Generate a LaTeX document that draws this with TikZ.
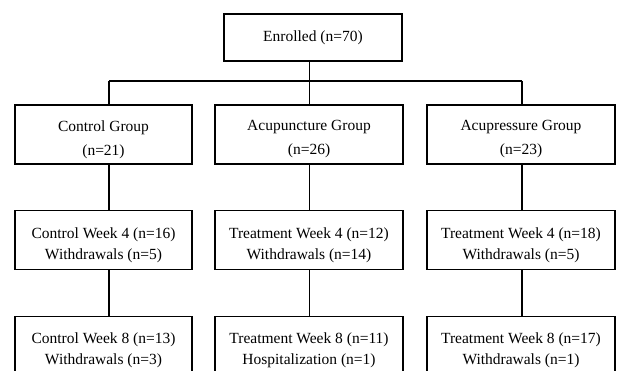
\documentclass[tikz,border=0pt]{standalone}
\usepackage{fontspec}
\setmainfont{Liberation Serif}
\begin{document}
\begin{tikzpicture}[x=1pt,y=-1pt,
  box/.style={draw, line width=1.1pt, rectangle, inner sep=0pt, minimum height=59pt},
  narrow/.style={minimum width=177pt},
  wide/.style={minimum width=188pt},
  txt/.style={inner sep=0pt, align=center, font=\fontsize{15.5}{21}\selectfont},
  grptxt/.style={txt, font=\fontsize{15.5}{24}\selectfont},
  conn/.style={line width=1.1pt}]
\useasboundingbox (0,0) rectangle (617,371);
\fill[white] (0,0) rectangle (617,371);
% column line positions
\coordinate (c1) at (109,81);
\coordinate (c2) at (309.5,81);
\coordinate (c3) at (522,81);
% boxes
\node[box, minimum width=178pt, minimum height=47pt] (enr) at (313,37.5) {};
\node[box, narrow] (g1) at (103.5,134.5) {};
\node[box, wide]   (g2) at (309,134.5) {};
\node[box, wide]   (g3) at (521,134.5) {};
\node[box, narrow] (a1) at (103.5,240) {};
\node[box, wide]   (a2) at (309,240) {};
\node[box, wide]   (a3) at (521,240) {};
\node[box, narrow] (b1) at (103.5,346) {};
\node[box, wide]   (b2) at (309,346) {};
\node[box, wide]   (b3) at (521,346) {};
% texts
\node[txt] (tenr) at (enr.center) {Enrolled (n=70)};
\node[grptxt] (tg1) at ([yshift=-5pt]g1.center) {Control Group\\(n=21)};
\node[grptxt] (tg2) at ([yshift=-5pt]g2.center) {Acupuncture Group\\(n=26)};
\node[grptxt] (tg3) at ([yshift=-5pt]g3.center) {Acupressure Group\\(n=23)};
\node[txt] (ta1) at ([yshift=-5pt]a1.center) {Control Week 4 (n=16)\\Withdrawals (n=5)};
\node[txt] (ta2) at ([yshift=-5pt]a2.center) {Treatment Week 4 (n=12)\\Withdrawals (n=14)};
\node[txt] (ta3) at ([yshift=-5pt]a3.center) {Treatment Week 4 (n=18)\\Withdrawals (n=5)};
\node[txt] (tb1) at ([yshift=-4pt]b1.center) {Control Week 8 (n=13)\\Withdrawals (n=3)};
\node[txt] (tb2) at ([yshift=-4pt]b2.center) {Treatment Week 8 (n=11)\\Hospitalization (n=1)};
\node[txt] (tb3) at ([yshift=-4pt]b3.center) {Treatment Week 8 (n=17)\\Withdrawals (n=1)};
% connectors
\draw[conn] (enr.south -| c2) -- (c2);
\draw[conn] (c1) -- (c3);
\draw[conn] (c1) -- (g1.north -| c1);
\draw[conn] (c2) -- (g2.north -| c2);
\draw[conn] (c3) -- (g3.north -| c3);
\draw[conn] (g1.south -| c1) -- (a1.north -| c1);
\draw[conn] (g2.south -| c2) -- (a2.north -| c2);
\draw[conn] (g3.south -| c3) -- (a3.north -| c3);
\draw[conn] (a1.south -| c1) -- (b1.north -| c1);
\draw[conn] (a2.south -| c2) -- (b2.north -| c2);
\draw[conn] (a3.south -| c3) -- (b3.north -| c3);
\end{tikzpicture}
\end{document}
